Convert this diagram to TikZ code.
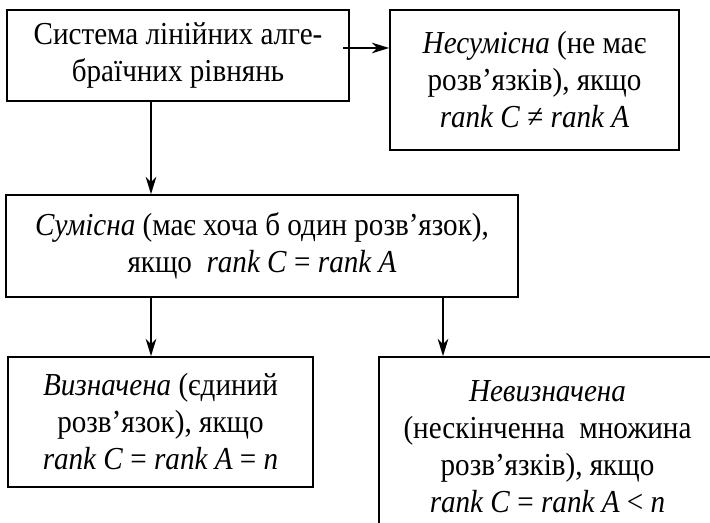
\documentclass[tikz,border=0pt]{standalone}
\usepackage{fontspec}
\setmainfont{Liberation Serif}[FakeStretch=0.91]
\usetikzlibrary{arrows.meta}
\begin{document}
\begin{tikzpicture}[x=0.75pt,y=-0.75pt,
  box/.style={draw, line width=1.3pt, align=center, inner sep=0pt,
    font=\fontsize{24}{27.75}\selectfont},
  arr/.style={line width=1.1pt, -{Stealth[length=13pt,width=8pt,inset=4pt]}}]
\clip (0,0) rectangle (710,523);
% solution classes of a linear system
\node[box, minimum width=256.5pt, minimum height=68.25pt] (sys) at (178,55.5)
  {Система лінійних алге-\\браїчних рівнянь};
\node[box, minimum width=216.75pt, minimum height=105pt] (inc) at (534.5,80)
  {\textit{Несумісна} (не має\\розв’язків), якщо\\\textit{rank C} ≠ \textit{rank A}};
\node[box, minimum width=384pt, minimum height=76.5pt] (con) at (262,246)
  {\textit{Сумісна} (має хоча б один розв’язок),\\якщо\ \ \textit{rank C} = \textit{rank A}};
\node[box, minimum width=228.75pt, minimum height=97.5pt] (det) at (160.5,422)
  {\textit{Визначена} (єдиний\\розв’язок), якщо\\\textit{rank C} = \textit{rank A} = \textit{n}};
\node[box, minimum width=252.75pt, minimum height=135pt] (ind) at (547.5,447)
  {\textit{Невизначена}\\(нескінченна\ \ множина\\розв’язків), якщо\\\textit{rank C} = \textit{rank A} < \textit{n}};
% connectors
\coordinate (r1) at (343,48);
\coordinate (xl) at (151,0);
\coordinate (xr) at (443,0);
\draw[arr] (r1) -- (r1 -| inc.west);
\draw[arr] (sys.south -| xl) -- (con.north -| xl);
\draw[arr] (con.south -| xl) -- (det.north -| xl);
\draw[arr] (con.south -| xr) -- (ind.north -| xr);
\end{tikzpicture}
\end{document}
